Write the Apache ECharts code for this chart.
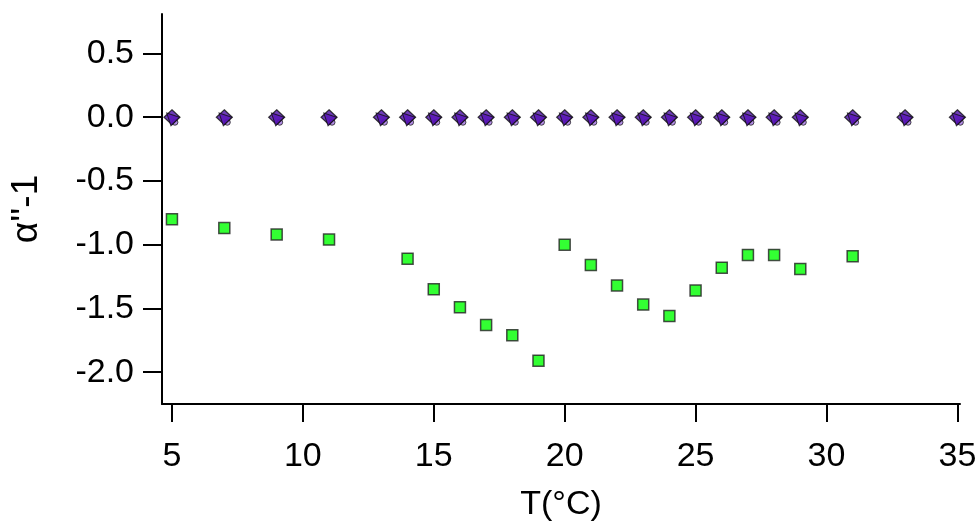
<!DOCTYPE html>
<html>
<head>
<meta charset="utf-8">
<script src="https://cdn.jsdelivr.net/npm/echarts@6/dist/echarts.min.js"></script>
<style>
  html, body { margin: 0; padding: 0; background: #fff; }
  #chart { width: 979px; height: 523px; }
</style>
</head>
<body>
<div id="chart"></div>
<script>
// temperatures (°C)
var tempAll = [5, 7, 9, 11, 13, 14, 15, 16, 17, 18, 19, 20, 21, 22, 23, 24, 25, 26, 27, 28, 29, 31, 33, 35]
var zeroVals = tempAll.map(function () { return 0 })

var tempGreen = [5, 7, 9, 11, 14, 15, 16, 17, 18, 19, 20, 21, 22, 23, 24, 25, 26, 27, 28, 29, 31]
var greenVals = [-0.80, -0.87, -0.92, -0.96, -1.11, -1.35, -1.49, -1.63, -1.71, -1.91,
  -1.00, -1.16, -1.32, -1.47, -1.56, -1.36, -1.18, -1.08, -1.08, -1.19, -1.09]

var xTicks = [5, 10, 15, 20, 25, 30, 35]
var yTicks = [-2.0, -1.5, -1.0, -0.5, 0.0, 0.5]

function pairs(xs, ys) {
  return xs.map(function (x, i) { return [x, ys[i]] })
}

var chart = echarts.init(document.getElementById('chart'))
var font = 'Liberation Sans, Arial, sans-serif'

chart.setOption({
  animation: false,
  grid: { left: 162, right: 19, top: 14, bottom: 119, outerBoundsMode: 'none', containLabel: false },
  xAxis: {
    type: 'value',
    min: 4.62,
    max: 35.1,
    name: 'T(°C)',
    nameLocation: 'middle',
    nameGap: 84,
    nameTextStyle: { color: '#000', fontSize: 34, fontFamily: font },
    splitLine: { show: false },
    axisLine: { show: true, onZero: false, lineStyle: { color: '#000', width: 2 } },
    axisTick: { show: true, inside: false, length: 18, customValues: xTicks, lineStyle: { color: '#000', width: 2 } },
    axisLabel: { customValues: xTicks, color: '#000', fontSize: 34, fontFamily: font, margin: 36 }
  },
  yAxis: {
    type: 'value',
    min: -2.25,
    max: 0.81,
    name: "α''-1",
    nameLocation: 'middle',
    nameGap: 117,
    nameTextStyle: { color: '#000', fontSize: 37, fontFamily: font },
    splitLine: { show: false },
    axisLine: { show: true, onZero: false, lineStyle: { color: '#000', width: 2 } },
    axisTick: { show: true, inside: false, length: 19, customValues: yTicks, lineStyle: { color: '#000', width: 2 } },
    axisLabel: {
      customValues: yTicks,
      color: '#000',
      fontSize: 34,
      fontFamily: font,
      margin: 28,
      formatter: function (v) { return v.toFixed(1) }
    }
  },
  series: [
    {
      type: 'scatter',
      data: pairs(tempGreen, greenVals),
      symbol: 'rect',
      symbolSize: 11,
      itemStyle: { color: '#00ff00', borderColor: '#222', borderWidth: 1.5 }
    },
    {
      type: 'scatter',
      data: pairs(tempAll, zeroVals),
      symbol: 'circle',
      symbolSize: 6,
      symbolOffset: [3, 5],
      itemStyle: { color: '#a070e0', borderColor: '#222', borderWidth: 1 }
    },
    {
      type: 'scatter',
      data: pairs(tempAll, zeroVals),
      symbol: 'diamond',
      symbolSize: [16, 15],
      itemStyle: { color: '#4a0ca8', borderColor: '#111', borderWidth: 1.2 }
    },
    {
      type: 'scatter',
      data: pairs(tempAll, zeroVals),
      symbol: 'triangle',
      symbolSize: 12,
      symbolRotate: 45,
      symbolOffset: [-1, 0],
      itemStyle: { color: '#5a14b8', borderColor: '#111', borderWidth: 1 }
    }
  ]
})
</script>
</body>
</html>
